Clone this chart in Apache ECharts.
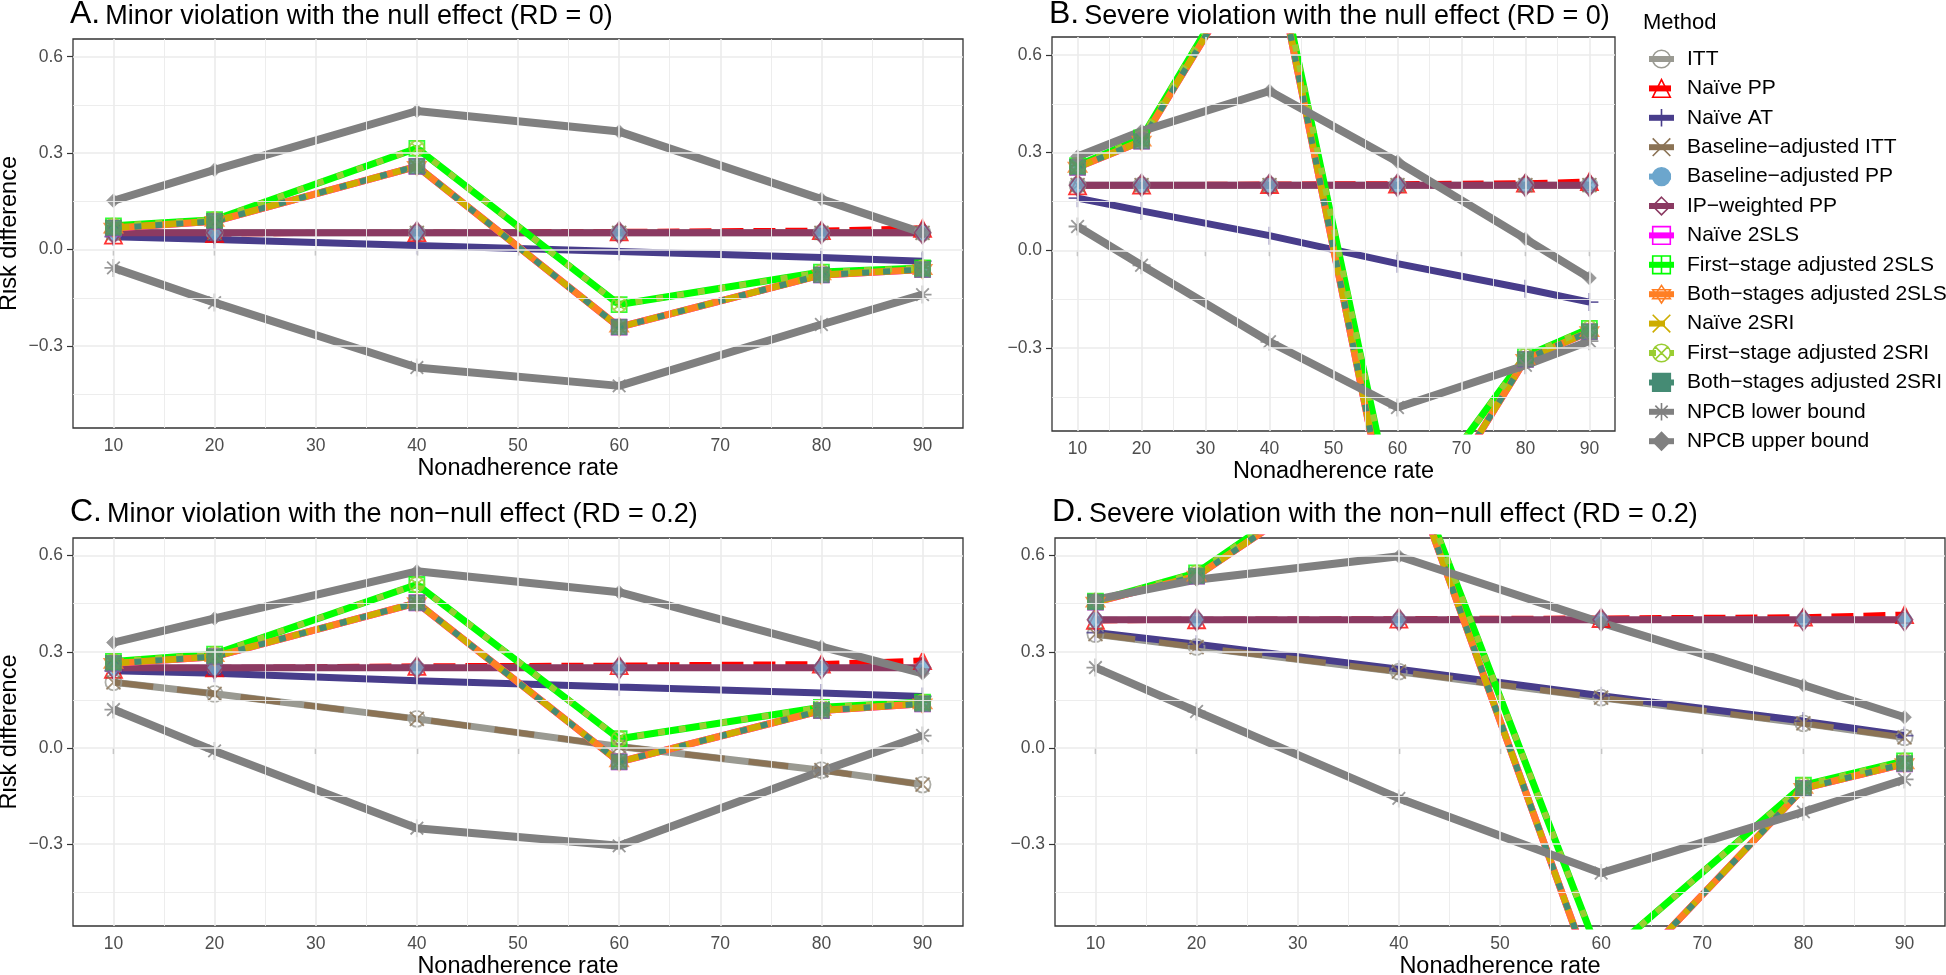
<!DOCTYPE html>
<html><head><meta charset="utf-8">
<script src="https://cdn.jsdelivr.net/npm/echarts@6/dist/echarts.min.js"></script>
<style>html,body{margin:0;padding:0;background:#fff}#c{width:1946px;height:975px}</style>
</head><body><div id="c"></div>
<script>
// ---------------- DATA ----------------
const xRates = [10, 20, 40, 60, 80, 90];
const xTicks = [10, 20, 30, 40, 50, 60, 70, 80, 90];
const yTicks = [-0.3, 0, 0.3, 0.6];
const methodNames = ['ITT', 'Naïve PP', 'Naïve AT', 'Baseline−adjusted ITT', 'Baseline−adjusted PP',
  'IP−weighted PP', 'Naïve 2SLS', 'First−stage adjusted 2SLS', 'Both−stages adjusted 2SLS',
  'Naïve 2SRI', 'First−stage adjusted 2SRI', 'Both−stages adjusted 2SRI', 'NPCB lower bound', 'NPCB upper bound'];
const panelLetters = ['A.', 'B.', 'C.', 'D.'];
const panelTitles = ['Minor violation with the null effect (RD = 0)', 'Severe violation with the null effect (RD = 0)',
  'Minor violation with the non−null effect (RD = 0.2)', 'Severe violation with the non−null effect (RD = 0.2)'];

// rows follow methodNames order; columns follow xRates
const panelA = [
  [0.052, 0.052, 0.052, 0.052, 0.052, 0.052],
  [0.045, 0.050, 0.053, 0.055, 0.059, 0.066],
  [0.040, 0.031, 0.013, -0.006, -0.025, -0.036],
  [0.052, 0.052, 0.052, 0.052, 0.052, 0.052],
  [0.052, 0.052, 0.052, 0.052, 0.052, 0.052],
  [0.052, 0.052, 0.052, 0.052, 0.052, 0.052],
  [0.067, 0.088, 0.259, -0.241, -0.079, -0.062],
  [0.074, 0.093, 0.315, -0.171, -0.070, -0.057],
  [0.067, 0.088, 0.259, -0.241, -0.079, -0.062],
  [0.067, 0.088, 0.259, -0.241, -0.079, -0.062],
  [0.074, 0.093, 0.315, -0.171, -0.070, -0.057],
  [0.067, 0.088, 0.259, -0.241, -0.079, -0.062],
  [-0.057, -0.165, -0.367, -0.424, -0.233, -0.140],
  [0.152, 0.248, 0.431, 0.367, 0.157, 0.052]
];
const panelB = [
  [0.200, 0.200, 0.200, 0.200, 0.200, 0.200],
  [0.198, 0.200, 0.202, 0.203, 0.206, 0.211],
  [0.160, 0.121, 0.045, -0.041, -0.118, -0.159],
  [0.200, 0.200, 0.200, 0.200, 0.200, 0.200],
  [0.200, 0.200, 0.200, 0.200, 0.200, 0.200],
  [0.200, 0.200, 0.200, 0.200, 0.200, 0.200],
  [0.255, 0.335, 0.980, -0.970, -0.335, -0.250],
  [0.260, 0.345, 1.000, -0.860, -0.325, -0.240],
  [0.255, 0.335, 0.980, -0.970, -0.335, -0.250],
  [0.255, 0.335, 0.980, -0.970, -0.335, -0.250],
  [0.260, 0.345, 1.000, -0.860, -0.325, -0.240],
  [0.255, 0.335, 0.980, -0.970, -0.335, -0.250],
  [0.073, -0.046, -0.281, -0.483, -0.353, -0.279],
  [0.288, 0.366, 0.489, 0.272, 0.035, -0.085]
];
const panelC = [
  [0.205, 0.169, 0.091, 0.005, -0.069, -0.114],
  [0.245, 0.250, 0.255, 0.257, 0.262, 0.273],
  [0.241, 0.233, 0.210, 0.190, 0.172, 0.161],
  [0.205, 0.169, 0.091, 0.005, -0.069, -0.114],
  [0.250, 0.250, 0.250, 0.250, 0.250, 0.250],
  [0.250, 0.250, 0.250, 0.250, 0.250, 0.250],
  [0.264, 0.285, 0.453, -0.043, 0.117, 0.138],
  [0.270, 0.293, 0.510, 0.029, 0.127, 0.143],
  [0.264, 0.285, 0.453, -0.043, 0.117, 0.138],
  [0.264, 0.285, 0.453, -0.043, 0.117, 0.138],
  [0.270, 0.293, 0.510, 0.029, 0.127, 0.143],
  [0.264, 0.285, 0.453, -0.043, 0.117, 0.138],
  [0.120, -0.009, -0.250, -0.305, -0.072, 0.039],
  [0.329, 0.404, 0.551, 0.486, 0.316, 0.233]
];
const panelD = [
  [0.355, 0.315, 0.238, 0.157, 0.077, 0.033],
  [0.398, 0.400, 0.402, 0.404, 0.408, 0.416],
  [0.360, 0.324, 0.246, 0.163, 0.084, 0.039],
  [0.355, 0.315, 0.238, 0.157, 0.077, 0.033],
  [0.400, 0.400, 0.400, 0.400, 0.400, 0.400],
  [0.400, 0.400, 0.400, 0.400, 0.400, 0.400],
  [0.455, 0.536, 0.960, -0.790, -0.126, -0.049],
  [0.458, 0.546, 0.980, -0.660, -0.116, -0.040],
  [0.455, 0.536, 0.960, -0.790, -0.126, -0.049],
  [0.455, 0.536, 0.960, -0.790, -0.126, -0.049],
  [0.458, 0.546, 0.980, -0.660, -0.116, -0.040],
  [0.455, 0.536, 0.960, -0.790, -0.126, -0.049],
  [0.251, 0.114, -0.157, -0.390, -0.199, -0.098],
  [0.463, 0.525, 0.598, 0.391, 0.196, 0.096]
];
const panels = [panelA, panelB, panelC, panelD];

// ---------------- STYLE ----------------
const FONT = '"Liberation Sans", Arial, Helvetica, sans-serif';
const P_PLUS = 'path://M10,0L10,20M0,10L20,10';
const P_TIMES = 'path://M0,0L20,20M20,0L0,20';
const P_SQPLUS = 'path://M0,0L20,0L20,20L0,20ZM10,0L10,20M0,10L20,10';
const P_STAR = 'path://M10,0L19,15L1,15ZM10,20L1,5L19,5Z';
const P_CIRCX = 'path://M0,10A10,10,0,1,1,20,10A10,10,0,1,1,0,10ZM3,3L17,17M17,3L3,17';
const P_AST = 'path://M10,0L10,20M0,10L20,10M3,3L17,17M17,3L3,17';
const styles = [
  {color: '#9A9A92', symbol: 'circle', size: 16, open: true, dash: 'solid', width: 7},
  {color: '#FF0000', symbol: 'triangle', size: 17, open: true, dash: [22, 10], width: 6},
  {color: '#483D8B', symbol: P_PLUS, size: 18, open: true, dash: 'solid', width: 7},
  {color: '#8B7355', symbol: P_TIMES, size: 14, open: true, dash: [40, 24], width: 6},
  {color: '#6CA6CD', symbol: 'circle', size: 15, open: false, dash: [22, 10], width: 6},
  {color: '#8B3A62', symbol: 'diamond', size: [16, 22], open: true, dash: 'solid', width: 7},
  {color: '#FF00FF', symbol: 'rect', size: 15, open: true, dash: 'solid', width: 7},
  {color: '#00FF00', symbol: P_SQPLUS, size: 15, open: true, dash: 'solid', width: 7},
  {color: '#FF7F24', symbol: P_STAR, size: 18, open: true, dash: 'solid', width: 7},
  {color: '#CDAD00', symbol: P_TIMES, size: 15, open: true, dash: [16, 10], width: 6},
  {color: '#9ACD32', symbol: P_CIRCX, size: 15, open: true, dash: [7, 14], width: 6},
  {color: '#458B74', symbol: 'rect', size: 16, open: false, dash: [7, 14], width: 6},
  {color: '#808080', symbol: P_AST, size: 18, open: true, dash: 'solid', width: 8},
  {color: '#808080', symbol: 'diamond', size: 14, open: false, dash: 'solid', width: 8}
];
const gridBoxes = [
  {left: 73, top: 39, width: 890, height: 389},
  {left: 1052, top: 37, width: 563, height: 394},
  {left: 73, top: 538, width: 890, height: 388},
  {left: 1055, top: 538, width: 890, height: 388}
];
const titlePos = [{left: 70, top: 0}, {left: 1049, top: 0}, {left: 70, top: 498}, {left: 1052, top: 498}];

function yFmt(v) {
  if (Math.abs(v) < 1e-9) return '0.0';
  return (v < 0 ? '−' : '') + Math.abs(v).toFixed(1);
}
function itemStyleOf(s) {
  return s.open ? {color: 'rgba(0,0,0,0)', borderColor: s.color, borderWidth: 1.8}
                : {color: s.color, borderColor: s.color, borderWidth: 0.5};
}

const grid = [], xAxis = [], yAxis = [], series = [], title = [];
gridBoxes.forEach((b, p) => {
  grid.push(Object.assign({show: true, backgroundColor: '#fff', borderColor: '#333', borderWidth: 1.3,
    containLabel: false, outerBoundsMode: 'none'}, b));
  xAxis.push({
    type: 'value', gridIndex: p, min: 6, max: 94,
    name: 'Nonadherence rate', nameLocation: 'middle', nameGap: 29,
    nameTextStyle: {fontFamily: FONT, fontSize: 23.5, color: '#000'},
    axisLine: {show: false}, splitLine: {show: false},
    axisTick: {show: true, customValues: xTicks, length: 6, lineStyle: {color: '#333', width: 1.2}},
    axisLabel: {show: true, customValues: xTicks, margin: 9, fontFamily: FONT, fontSize: 17.5, color: '#4d4d4d'}
  });
  yAxis.push({
    type: 'value', gridIndex: p, min: -0.555, max: 0.655,
    name: (p === 0 || p === 2) ? 'Risk difference' : '', nameLocation: 'middle', nameGap: 51, nameRotate: 90,
    nameTextStyle: {fontFamily: FONT, fontSize: 23.5, color: '#000'},
    axisLine: {show: false}, splitLine: {show: false},
    axisTick: {show: true, customValues: yTicks, length: 6, lineStyle: {color: '#333', width: 1.2}},
    axisLabel: {show: true, customValues: yTicks, margin: 10, fontFamily: FONT, fontSize: 17.5, color: '#4d4d4d', formatter: yFmt}
  });
  title.push({
    left: titlePos[p].left, top: titlePos[p].top, padding: 0,
    text: '{l|' + panelLetters[p] + '} {t|' + panelTitles[p] + '}',
    textStyle: {fontWeight: 'normal', rich: {
      l: {fontFamily: FONT, fontSize: 32, fontWeight: 'normal', color: '#000', lineHeight: 30, verticalAlign: 'bottom'},
      t: {fontFamily: FONT, fontSize: 27, fontWeight: 'normal', color: '#000', lineHeight: 30, verticalAlign: 'bottom'}
    }}
  });
  // grid lines through the library scales
  const minorY = [-0.45, -0.15, 0.15, 0.45], minorX = [15, 25, 35, 45, 55, 65, 75, 85];
  series.push({
    type: 'line', name: '_minor' + p, xAxisIndex: p, yAxisIndex: p, data: [], z: 1, silent: true,
    markLine: {silent: true, symbol: ['none', 'none'], label: {show: false}, animation: false,
      lineStyle: {color: '#ebebeb', width: 0.9, type: 'solid'},
      data: minorY.map(v => ({yAxis: v})).concat(minorX.map(v => ({xAxis: v})))}
  });
  series.push({
    type: 'line', name: '_major' + p, xAxisIndex: p, yAxisIndex: p, data: [], z: 1, silent: true,
    markLine: {silent: true, symbol: ['none', 'none'], label: {show: false}, animation: false,
      lineStyle: {color: '#ebebeb', width: 1.6, type: 'solid'},
      data: yTicks.map(v => ({yAxis: v})).concat(xTicks.map(v => ({xAxis: v})))}
  });
});

// lines first (legend providers), then points on top
panels.forEach((vals, p) => {
  methodNames.forEach((name, m) => {
    const s = styles[m];
    series.push({
      type: 'line', name: name, xAxisIndex: p, yAxisIndex: p, z: 2,
      data: xRates.map((x, i) => [x, vals[m][i]]),
      showSymbol: false, symbol: s.symbol, symbolSize: s.size,
      itemStyle: itemStyleOf(s),
      lineStyle: {color: s.color, width: s.width, type: s.dash, cap: 'butt'},
      emphasis: {disabled: true}
    });
  });
});
panels.forEach((vals, p) => {
  methodNames.forEach((name, m) => {
    const s = styles[m];
    series.push({
      type: 'scatter', name: name, xAxisIndex: p, yAxisIndex: p, z: 3,
      data: xRates.map((x, i) => [x, vals[m][i]]),
      symbol: s.symbol, symbolSize: s.size, itemStyle: itemStyleOf(s),
      emphasis: {disabled: true}
    });
  });
});

title.push({left: 1643, top: 12, padding: 0, text: 'Method',
  textStyle: {fontFamily: FONT, fontSize: 22, fontWeight: 'normal', color: '#000'}});

const option = {
  animation: false,
  backgroundColor: '#fff',
  title: title,
  grid: grid, xAxis: xAxis, yAxis: yAxis, series: series,
  tooltip: {show: false},
  legend: {
    data: methodNames, orient: 'vertical', left: 1646, top: 48, padding: 0,
    itemWidth: 25, itemHeight: 22, itemGap: 7.4, selectedMode: false,
    formatter: function (n) { return '{g|}' + n; },
    textStyle: {fontFamily: FONT, fontSize: 21, color: '#000', lineHeight: 22,
      rich: {g: {width: 8, fontSize: 21, lineHeight: 22}}},
    lineStyle: {width: 6},
    itemStyle: {borderWidth: 1.6}
  }
};
const chart = echarts.init(document.getElementById('c'), null, {renderer: 'canvas', width: 1946, height: 975});
chart.setOption(option);
</script></body></html>
